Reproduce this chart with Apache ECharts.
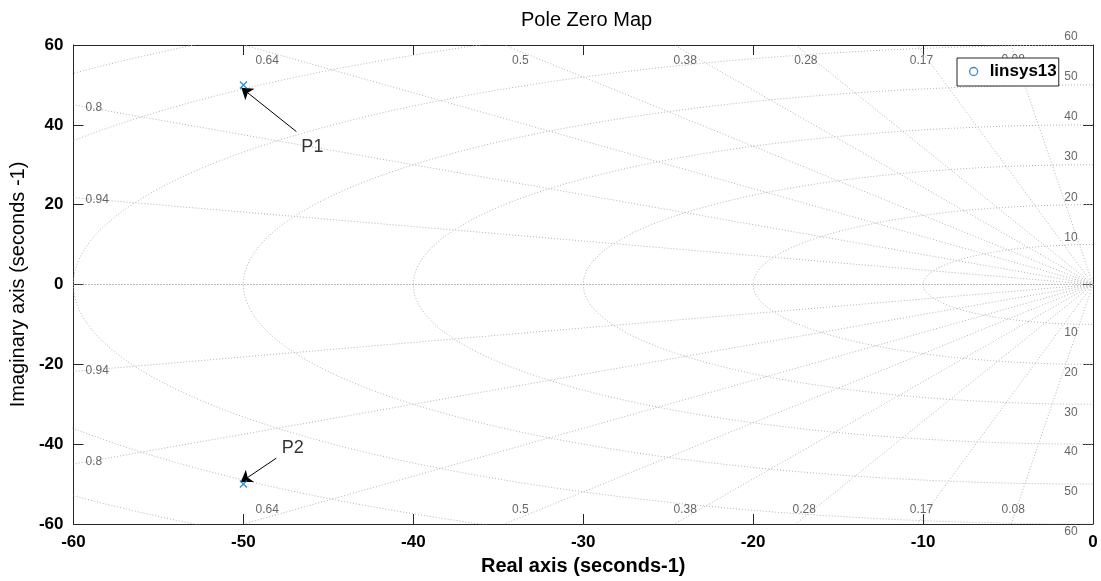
<!DOCTYPE html>
<html>
<head>
<meta charset="utf-8">
<script src="https://cdn.jsdelivr.net/npm/echarts@6/dist/echarts.min.js"></script>
<style>
html,body{margin:0;padding:0;background:#fff;}
#chart{width:1101px;height:581px;}
</style>
</head>
<body>
<div id="chart"></div>
<script>
// ---- data ----
const seriesName = 'linsys13';
const poles = [[-50, 50], [-50, -50]];
const zetaValues = [0.08, 0.17, 0.28, 0.38, 0.5, 0.64, 0.8, 0.94];
const wnValues = [10, 20, 30, 40, 50, 60, 70, 80];
const zetaLabelText = ['0.64', '0.5', '0.38', '0.28', '0.17', '0.08', '0.64', '0.5', '0.38', '0.28', '0.17', '0.08', '0.8', '0.94', '0.94', '0.8'];
const zetaLabelX = [-48.6, -33.7, -24.0, -16.9, -10.1, -4.7, -48.6, -33.7, -24.0, -17.0, -10.1, -4.7, -58.8, -58.6, -58.6, -58.8];
const zetaLabelY = [56, 56, 56, 56, 56, 56.2, -56.4, -56.4, -56.4, -56.4, -56.3, -56.3, 44.25, 21.25, -21.5, -44.5];
const wnLabelText = ['60', '50', '40', '30', '20', '10', '10', '20', '30', '40', '50', '60'];
const wnLabelX = -1.3;
const wnLabelY = [62, 52, 42, 32, 21.75, 11.75, -12, -22, -32, -42, -52, -62];
const noteText = ['P1', 'P2'];
const noteTextPos = [[-45.94, 34.5], [-47.09, -41]];
const noteArrowFrom = [[-46.88, 38.3], [-48.06, -43.5]];
const noteArrowTo = [[-50.12, 49.3], [-50.15, -49.5]];

// ---- build grid geometry (s-plane grid: damping rays and wn circles) ----
const gridSeries = [];
const gridStyle = {color: '#b4b4b4', width: 1, type: [1, 2]};
zetaValues.forEach(function (z) {
  [1, -1].forEach(function (s) {
    const dx = -z, dy = s * Math.sqrt(1 - z * z);
    const t = Math.min(60 / z, 60 / Math.abs(dy));
    gridSeries.push({
      type: 'line', data: [[0, 0], [dx * t, dy * t]], showSymbol: false, silent: true,
      lineStyle: gridStyle, z: 1, animation: false
    });
  });
});
wnValues.forEach(function (w) {
  const pts = [];
  for (let a = 90; a <= 270; a += 1) {
    const r = a * Math.PI / 180;
    pts.push([w * Math.cos(r), w * Math.sin(r)]);
  }
  gridSeries.push({
    type: 'line', data: pts, showSymbol: false, silent: true,
    lineStyle: gridStyle, z: 1, animation: false, clip: true
  });
});
gridSeries.push({
  type: 'line', data: [[-60, 0], [0, 0]], showSymbol: false, silent: true,
  lineStyle: {color: '#7a7a7a', width: 1, type: [1, 2]}, z: 1, animation: false
});

const font = 'Liberation Sans, Arial, Helvetica, sans-serif';

const zetaLabelData = zetaLabelText.map(function (t, i) {
  return {name: t, value: [zetaLabelX[i], zetaLabelY[i]]};
});
const wnLabelData = wnLabelText.map(function (t, i) {
  return {name: t, value: [wnLabelX, wnLabelY[i]]};
});
const noteData = noteText.map(function (t, i) {
  return {name: t, value: noteTextPos[i]};
});
const arrowData = noteArrowFrom.map(function (p, i) {
  return {coords: [p, noteArrowTo[i]]};
});

const axisLineStyle = {color: '#262626', width: 1};

const option = {
  animation: false,
  backgroundColor: '#ffffff',
  title: {
    text: 'Pole Zero Map', left: 516, top: 5,
    textStyle: {fontFamily: font, fontSize: 20, fontWeight: 'normal', color: '#000'}
  },
  legend: {
    left: 957, top: 58, orient: 'vertical',
    data: [{name: seriesName, icon: 'circle',
      itemStyle: {color: '#ffffff', borderColor: '#0072BD', borderWidth: 1.3}}],
    itemWidth: 22, itemHeight: 8,
    padding: [5, 2, 6, 12],
    backgroundColor: '#ffffff', borderColor: '#262626', borderWidth: 1,
    textStyle: {fontFamily: font, fontSize: 17, fontWeight: 'bold', color: '#000'},
    z: 10
  },
  grid: {left: 73, right: 8, top: 45, bottom: 56, containLabel: false},
  xAxis: [{
    type: 'value', min: -60, max: 0, interval: 10, position: 'bottom',
    name: 'Real axis (seconds-1)', nameLocation: 'middle', nameGap: 32,
    nameTextStyle: {fontFamily: font, fontSize: 20, fontWeight: 'bold', color: '#000'},
    axisLine: {show: true, onZero: false, lineStyle: axisLineStyle},
    axisTick: {show: true, inside: true, length: 10, lineStyle: axisLineStyle},
    axisLabel: {fontFamily: font, fontSize: 17, fontWeight: 'bold', color: '#000', margin: 10},
    splitLine: {show: false}
  }, {
    type: 'value', min: -60, max: 0, interval: 10, position: 'top',
    axisLine: {show: true, onZero: false, lineStyle: axisLineStyle},
    axisTick: {show: true, inside: true, length: 10, lineStyle: axisLineStyle},
    axisLabel: {show: false}, splitLine: {show: false}
  }],
  yAxis: [{
    type: 'value', min: -60, max: 60, interval: 20, position: 'left',
    name: 'Imaginary axis (seconds -1)', nameLocation: 'middle', nameGap: 45,
    nameTextStyle: {fontFamily: font, fontSize: 20, fontWeight: 'normal', color: '#000'},
    axisLine: {show: true, onZero: false, lineStyle: axisLineStyle},
    axisTick: {show: true, inside: true, length: 10, lineStyle: axisLineStyle},
    axisLabel: {fontFamily: font, fontSize: 17, fontWeight: 'bold', color: '#000', margin: 10},
    splitLine: {show: false}
  }, {
    type: 'value', min: -60, max: 60, interval: 20, position: 'right',
    axisLine: {show: true, onZero: false, lineStyle: axisLineStyle},
    axisTick: {show: true, inside: true, length: 10, lineStyle: axisLineStyle},
    axisLabel: {show: false}, splitLine: {show: false}
  }],
  series: gridSeries.concat([
    {
      type: 'scatter', name: 'zetaLabels', data: zetaLabelData, symbolSize: 0, silent: true, clip: false, z: 3,
      label: {show: true, position: 'inside', formatter: '{b}',
        fontFamily: font, fontSize: 12, color: '#404040'}
    },
    {
      type: 'scatter', name: 'wnLabels', data: wnLabelData, symbolSize: 0, silent: true, clip: false, z: 3,
      label: {show: true, position: 'inside', formatter: '{b}',
        fontFamily: font, fontSize: 12, color: '#404040'}
    },
    {
      type: 'lines', coordinateSystem: 'cartesian2d', data: arrowData, silent: true, z: 4,
      symbol: ['none', 'arrow'], symbolSize: 11,
      lineStyle: {color: '#000', width: 1, opacity: 1}
    },
    {
      type: 'scatter', name: 'notes', data: noteData, symbolSize: 0, silent: true, clip: false, z: 4,
      label: {show: true, position: 'inside', formatter: '{b}',
        fontFamily: font, fontSize: 18, color: '#000'}
    },
    {
      type: 'scatter', name: seriesName, data: poles, z: 5,
      symbol: 'path://M0,0L10,10M10,0L0,10', symbolSize: 7,
      itemStyle: {color: 'none', borderColor: '#0072BD', borderWidth: 1.3}
    }
  ])
};

const chart = echarts.init(document.getElementById('chart'), null, {renderer: 'canvas'});
chart.setOption(option);
</script>
</body>
</html>
